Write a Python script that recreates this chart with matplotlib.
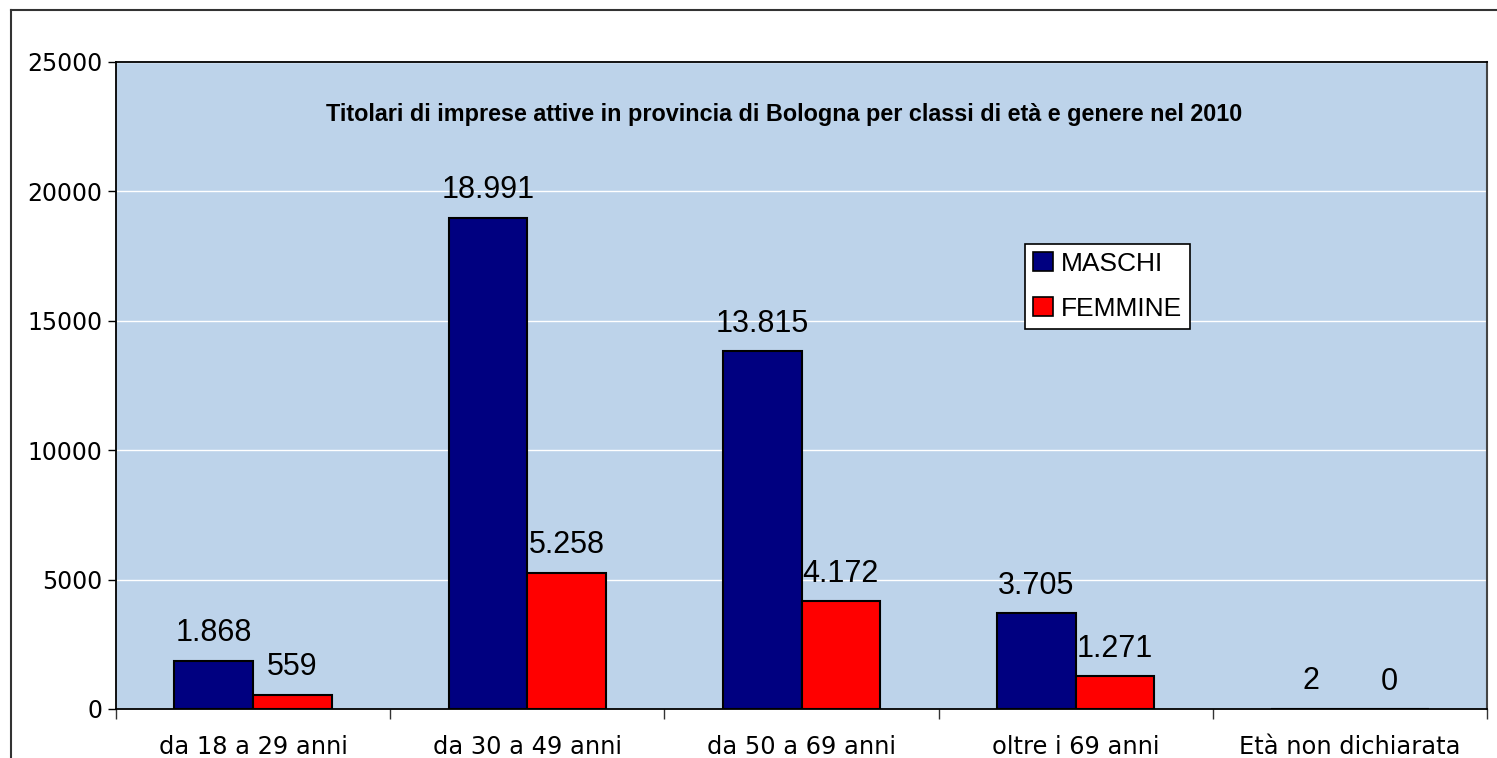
import matplotlib
matplotlib.use("Agg")
import matplotlib.pyplot as plt
import numpy as np
from matplotlib.patches import Patch
from matplotlib.lines import Line2D

categories = ["da 18 a 29 anni", "da 30 a 49 anni", "da 50 a 69 anni", "oltre i 69 anni", "Età non dichiarata"]
maschi = [1868, 18991, 13815, 3705, 2]
femmine = [559, 5258, 4172, 1271, 0]
series_names = ["MASCHI", "FEMMINE"]
title = "Titolari di imprese attive in provincia di Bologna per classi di età e genere nel 2010"

W, H = 1497, 758
fig = plt.figure(figsize=(W / 100, H / 100), dpi=100)
fig.patch.set_facecolor("white")
ax = fig.add_axes([116 / W, 1 - 709 / H, (1487 - 116) / W, (709 - 62) / H])
ax.set_facecolor("#BDD3EA")

x = np.arange(len(categories))
bw = 0.287
b1 = ax.bar(x - bw / 2, maschi, bw, color="#000080", edgecolor="black", linewidth=1.5, zorder=3)
b2 = ax.bar(x + bw / 2, femmine, bw, color="#FF0000", edgecolor="black", linewidth=1.5, zorder=3)

def fmt(v):
    return f"{v:,}".replace(",", ".")

for bars, vals in ((b1, maschi), (b2, femmine)):
    for r, v in zip(bars, vals):
        ax.annotate(fmt(v), (r.get_x() + r.get_width() / 2, v), xytext=(0, 9),
                    textcoords="offset points", ha="center", va="bottom",
                    fontsize=22, family="Liberation Sans", zorder=5)

ax.set_xlim(-0.5, len(categories) - 0.5)
ax.set_ylim(0, 25000)
ax.set_yticks(np.arange(0, 25001, 5000))
ax.yaxis.grid(True, color="white", linewidth=1.0, zorder=0)
ax.set_axisbelow(True)

ax.set_xticks(np.arange(len(categories) + 1) - 0.5, minor=False)
ax.set_xticklabels([])
ax.set_xticks(x, minor=True)
ax.set_xticklabels(categories, minor=True, fontsize=17.4, family="DejaVu Sans")
ax.tick_params(axis="x", which="major", length=7, width=1, direction="out", color="#333333")
ax.tick_params(axis="x", which="minor", length=0, pad=19)
ax.tick_params(axis="y", length=6, width=1, direction="out", labelsize=17, pad=4)
for lab in ax.get_yticklabels():
    lab.set_family("DejaVu Sans")

for s in ("left", "bottom", "top"):
    ax.spines[s].set_color("black")
    ax.spines[s].set_linewidth(1.3)
ax.spines["right"].set_color("#444444")
ax.spines["right"].set_linewidth(1.5)

fig.text(784.5 / W, 1 - 114 / H, title, ha="center", va="center",
         fontsize=16.8, fontweight="bold", family="Liberation Sans")

handles = [Patch(facecolor="#000080", edgecolor="black", linewidth=1.2),
           Patch(facecolor="#FF0000", edgecolor="black", linewidth=1.2)]
leg = fig.legend(handles, series_names, loc="upper left",
                 bbox_to_anchor=(1025 / W, 1 - 244 / H),
                 prop={"family": "Liberation Sans", "size": 19},
                 frameon=True, fancybox=False, handlelength=0.75, handleheight=0.75,
                 handletextpad=0.3, borderpad=0.3, labelspacing=0.8, borderaxespad=0,
                 framealpha=1)
leg.get_frame().set_edgecolor("black")
leg.get_frame().set_linewidth(1.2)
leg.get_frame().set_facecolor("white")

fig.add_artist(Line2D([11 / W, 11 / W], [0, 1 - 10 / H], transform=fig.transFigure, color="#333333", linewidth=1.5))
fig.add_artist(Line2D([11 / W, 1], [1 - 10 / H, 1 - 10 / H], transform=fig.transFigure, color="#333333", linewidth=1.5))

fig.savefig("out.png", dpi=100, facecolor="white")
